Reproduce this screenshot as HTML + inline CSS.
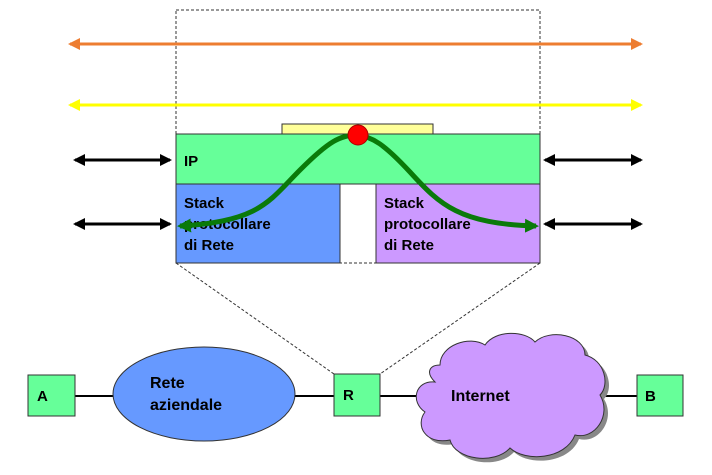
<!DOCTYPE html>
<html><head><style>body{margin:0;background:#fff}svg{display:block}text{font-family:"Liberation Sans",sans-serif;font-weight:bold}</style></head><body>
<svg width="712" height="475" viewBox="0 0 712 475" xmlns="http://www.w3.org/2000/svg">
<defs>
<marker id="ao" markerWidth="12" markerHeight="12" refX="10" refY="6" orient="auto-start-reverse" markerUnits="userSpaceOnUse"><path d="M0,0 L12,6 L0,12 z" fill="#ed7d31"/></marker>
<marker id="ay" markerWidth="12" markerHeight="12" refX="10" refY="6" orient="auto-start-reverse" markerUnits="userSpaceOnUse"><path d="M0,0 L12,6 L0,12 z" fill="#ffff00"/></marker>
<marker id="ab" markerWidth="12" markerHeight="12" refX="10" refY="6" orient="auto-start-reverse" markerUnits="userSpaceOnUse"><path d="M0,0 L12,6 L0,12 z" fill="#000"/></marker>
<marker id="ag" markerWidth="14" markerHeight="14" refX="11" refY="7" orient="auto-start-reverse" markerUnits="userSpaceOnUse"><path d="M0,0 L14,7 L0,14 z" fill="#0a7a0a"/></marker>
</defs>
<rect x="176" y="10" width="364" height="253" fill="none" stroke="#333" stroke-dasharray="3,2"/>
<line x1="176" y1="263" x2="334" y2="374" stroke="#333" stroke-dasharray="3,2"/>
<line x1="540" y1="263" x2="380" y2="374" stroke="#333" stroke-dasharray="3,2"/>
<line x1="70" y1="44" x2="641" y2="44" stroke="#ed7d31" stroke-width="3" marker-start="url(#ao)" marker-end="url(#ao)"/>
<line x1="70" y1="105" x2="641" y2="105" stroke="#ffff00" stroke-width="3" marker-start="url(#ay)" marker-end="url(#ay)"/>
<g stroke="#000" stroke-width="3">
<line x1="75" y1="160" x2="170" y2="160" marker-start="url(#ab)" marker-end="url(#ab)"/>
<line x1="545" y1="160" x2="641" y2="160" marker-start="url(#ab)" marker-end="url(#ab)"/>
<line x1="75" y1="224" x2="170" y2="224" marker-start="url(#ab)" marker-end="url(#ab)"/>
<line x1="545" y1="224" x2="641" y2="224" marker-start="url(#ab)" marker-end="url(#ab)"/>
</g>
<rect x="282" y="124" width="151" height="10" fill="#ffff99" stroke="#333"/>
<rect x="176" y="134" width="364" height="50" fill="#66ff99" stroke="#333"/>
<rect x="176" y="184" width="164" height="79" fill="#6699ff" stroke="#333"/>
<rect x="376" y="184" width="164" height="79" fill="#cc99ff" stroke="#333"/>
<text x="184" y="166" font-size="15">IP</text>
<text font-size="15"><tspan x="184" y="208">Stack</tspan><tspan x="184" y="229">protocollare</tspan><tspan x="184" y="250">di Rete</tspan></text>
<text font-size="15"><tspan x="384" y="208">Stack</tspan><tspan x="384" y="229">protocollare</tspan><tspan x="384" y="250">di Rete</tspan></text>
<path d="M180,226 C260,222 270,200 300,170 C330,140 340,136 356,135 C372,136 385,145 410,172 C440,205 460,224 536,226" fill="none" stroke="#0a7a0a" stroke-width="5" marker-start="url(#ag)" marker-end="url(#ag)"/>
<circle cx="358" cy="135" r="10" fill="#ff0000" stroke="#a00"/>
<line x1="75" y1="396" x2="637" y2="396" stroke="#000" stroke-width="2"/>
<rect x="28" y="375" width="47" height="41" fill="#66ff99" stroke="#333"/>
<text x="37" y="401" font-size="15">A</text>
<ellipse cx="204" cy="394" rx="91" ry="47" fill="#6699ff" stroke="#333"/>
<text font-size="16"><tspan x="150" y="388">Rete</tspan><tspan x="150" y="410">aziendale</tspan></text>
<rect x="334" y="374" width="46" height="42" fill="#66ff99" stroke="#333"/>
<text x="343" y="400" font-size="15">R</text>
<g transform="translate(4,4)" fill="#888"><path d="M440,365 C440,345 470,335 485,345 C495,330 525,330 535,342 C550,328 585,335 585,355 C605,360 610,385 600,395 C612,415 595,440 575,435 C565,460 525,462 510,448 C495,465 455,460 450,440 C425,445 415,425 425,412 C410,402 415,380 435,382 C425,372 430,365 440,365z"/></g>
<path d="M440,365 C440,345 470,335 485,345 C495,330 525,330 535,342 C550,328 585,335 585,355 C605,360 610,385 600,395 C612,415 595,440 575,435 C565,460 525,462 510,448 C495,465 455,460 450,440 C425,445 415,425 425,412 C410,402 415,380 435,382 C425,372 430,365 440,365z" fill="#cc99ff" stroke="#333"/>
<text x="451" y="401" font-size="16">Internet</text>
<rect x="637" y="375" width="46" height="41" fill="#66ff99" stroke="#333"/>
<text x="645" y="401" font-size="15">B</text>
</svg>
</body></html>
